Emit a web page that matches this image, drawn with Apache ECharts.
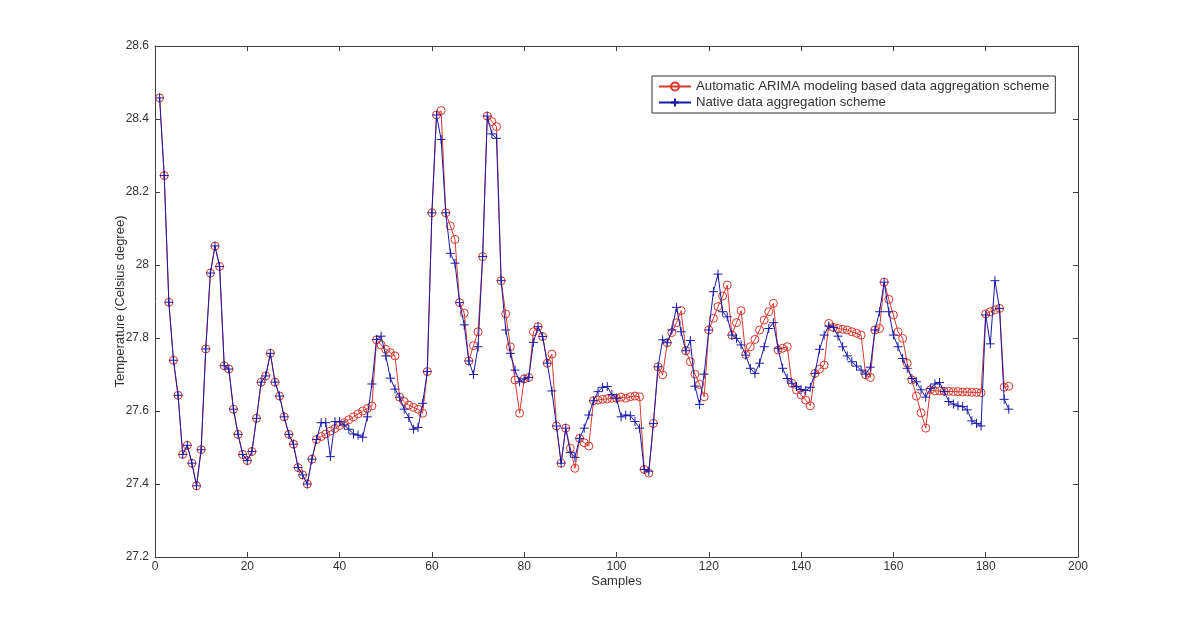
<!DOCTYPE html>
<html>
<head>
<meta charset="utf-8">
<title>Temperature aggregation</title>
<script src="https://cdn.jsdelivr.net/npm/echarts@6/dist/echarts.min.js"></script>
<style>
    html, body { margin: 0; padding: 0; background: #fff; }
    #chart { width: 1200px; height: 625px; }
</style>
</head>
<body>
<div id="chart"></div>
<script>
// values, sample 1..185
var arimaTemp = [
    28.458, 28.245, 27.898, 27.739, 27.643, 27.481, 27.506, 27.457, 27.395, 27.494,
    27.770, 27.978, 28.052, 27.996, 27.724, 27.715, 27.605, 27.536, 27.481, 27.464,
    27.489, 27.580, 27.679, 27.696, 27.758, 27.679, 27.641, 27.584, 27.536, 27.509,
    27.445, 27.425, 27.400, 27.468, 27.522, 27.530, 27.537, 27.545, 27.552, 27.560,
    27.568, 27.576, 27.584, 27.592, 27.600, 27.607, 27.614, 27.795, 27.781, 27.769,
    27.760, 27.751, 27.638, 27.626, 27.616, 27.610, 27.605, 27.594, 27.708, 28.143,
    28.411, 28.423, 28.143, 28.107, 28.070, 27.897, 27.868, 27.737, 27.779, 27.817,
    28.023, 28.408, 28.393, 28.379, 27.957, 27.866, 27.776, 27.685, 27.594, 27.688,
    27.692, 27.817, 27.831, 27.804, 27.731, 27.756, 27.559, 27.457, 27.553, 27.498,
    27.443, 27.525, 27.513, 27.504, 27.628, 27.630, 27.632, 27.633, 27.635, 27.635,
    27.638, 27.635, 27.639, 27.641, 27.639, 27.440, 27.430, 27.566, 27.721, 27.699,
    27.787, 27.815, 27.842, 27.875, 27.765, 27.735, 27.701, 27.673, 27.639, 27.822,
    27.854, 27.886, 27.915, 27.945, 27.808, 27.842, 27.875, 27.755, 27.776, 27.796,
    27.822, 27.849, 27.872, 27.895, 27.767, 27.772, 27.776, 27.676, 27.658, 27.644,
    27.630, 27.614, 27.703, 27.715, 27.726, 27.840, 27.829, 27.826, 27.824, 27.822,
    27.817, 27.813, 27.808, 27.699, 27.692, 27.822, 27.826, 27.953, 27.906, 27.863,
    27.817, 27.799, 27.731, 27.685, 27.641, 27.595, 27.553, 27.658, 27.655, 27.655,
    27.654, 27.654, 27.653, 27.653, 27.652, 27.652, 27.651, 27.651, 27.650, 27.866,
    27.872, 27.877, 27.881, 27.665, 27.668
];

var nativeTemp = [
    28.458, 28.245, 27.898, 27.739, 27.643, 27.481, 27.506, 27.457, 27.395, 27.494,
    27.770, 27.978, 28.052, 27.996, 27.724, 27.715, 27.605, 27.536, 27.481, 27.464,
    27.489, 27.580, 27.679, 27.696, 27.758, 27.679, 27.641, 27.584, 27.536, 27.509,
    27.445, 27.425, 27.400, 27.468, 27.522, 27.568, 27.568, 27.475, 27.571, 27.571,
    27.562, 27.550, 27.537, 27.534, 27.528, 27.584, 27.674, 27.796, 27.805, 27.751,
    27.690, 27.660, 27.638, 27.605, 27.582, 27.550, 27.555, 27.621, 27.708, 28.143,
    28.411, 28.344, 28.143, 28.032, 28.005, 27.897, 27.836, 27.737, 27.700, 27.776,
    28.023, 28.408, 28.359, 28.347, 27.957, 27.822, 27.758, 27.712, 27.680, 27.688,
    27.692, 27.788, 27.831, 27.804, 27.731, 27.655, 27.559, 27.457, 27.553, 27.486,
    27.473, 27.525, 27.553, 27.589, 27.628, 27.653, 27.665, 27.667, 27.645, 27.635,
    27.584, 27.589, 27.587, 27.571, 27.553, 27.440, 27.435, 27.566, 27.721, 27.795,
    27.787, 27.822, 27.884, 27.817, 27.765, 27.793, 27.668, 27.618, 27.701, 27.822,
    27.927, 27.975, 27.872, 27.858, 27.808, 27.799, 27.781, 27.753, 27.717, 27.703,
    27.731, 27.776, 27.826, 27.842, 27.772, 27.717, 27.689, 27.676, 27.667, 27.659,
    27.656, 27.665, 27.703, 27.769, 27.808, 27.833, 27.829, 27.805, 27.776, 27.751,
    27.735, 27.723, 27.712, 27.701, 27.720, 27.822, 27.872, 27.953, 27.872, 27.808,
    27.776, 27.744, 27.717, 27.689, 27.680, 27.658, 27.638, 27.662, 27.674, 27.678,
    27.653, 27.626, 27.619, 27.614, 27.612, 27.603, 27.573, 27.566, 27.559, 27.863,
    27.784, 27.957, 27.881, 27.632, 27.605
];

var seriesNames = ['Automatic ARIMA modeling based data aggregation scheme', 'Native data aggregation scheme'];
var xTicks = { min: 0, max: 200, step: 20 };
var yTicks = { min: 27.2, max: 28.6, step: 0.2 };

function toPoints(values) {
    return values.map(function (v, i) {
        return [i + 1, v];
    });
}

var textColor = '#333';
var axisColor = '#404040';
var font = 'Arial, "Liberation Sans", sans-serif';

function boxAxis(pos, range, showLabel) {
    return {
        type: 'value',
        position: pos,
        min: range.min,
        max: range.max,
        interval: range.step,
        axisLine: { show: true, onZero: false, lineStyle: { color: axisColor, width: 1 } },
        axisTick: { show: true, inside: true, length: 5, lineStyle: { color: axisColor } },
        axisLabel: { show: showLabel, color: textColor, fontFamily: font, fontSize: 12, margin: 6 },
        splitLine: { show: false }
    };
}

var xBottom = boxAxis('bottom', xTicks, true);
xBottom.axisLabel.margin = 4;
xBottom.name = 'Samples';
xBottom.nameLocation = 'middle';
xBottom.nameGap = 18;
xBottom.nameMoveOverlap = false;
xBottom.nameTextStyle = { color: textColor, fontFamily: font, fontSize: 13 };

var yLeft = boxAxis('left', yTicks, true);
yLeft.name = 'Temperature (Celsius degree)';
yLeft.nameLocation = 'middle';
yLeft.nameGap = 28;
yLeft.nameMoveOverlap = false;
yLeft.nameTextStyle = { color: textColor, fontFamily: font, fontSize: 13 };

var plusPath = 'path://M4,0L4,8M0,4L8,4';

var option = {
    animation: false,
    backgroundColor: '#fff',
    grid: { left: 155, right: 122, top: 46, bottom: 68 },
    xAxis: [xBottom, boxAxis('top', xTicks, false)],
    yAxis: [yLeft, boxAxis('right', yTicks, false)],
    legend: {
        orient: 'vertical',
        left: 652,
        top: 76,
        padding: [4, 6, 4, 6],
        itemGap: 3,
        itemWidth: 32,
        itemHeight: 10,
        backgroundColor: '#fff',
        borderColor: '#333',
        borderWidth: 1,
        textStyle: { color: textColor, fontFamily: font, fontSize: 13.2 },
        data: seriesNames
    },
    series: [
        {
            name: seriesNames[0],
            type: 'line',
            data: toPoints(arimaTemp),
            symbol: 'circle',
            symbolSize: 8,
            itemStyle: { color: 'rgba(0,0,0,0)', borderColor: '#d8382c', borderWidth: 1 },
            lineStyle: { color: '#d8382c', width: 1 },
            z: 2
        },
        {
            name: seriesNames[1],
            type: 'line',
            data: toPoints(nativeTemp),
            symbol: plusPath,
            symbolSize: 9,
            itemStyle: { color: 'rgba(0,0,0,0)', borderColor: '#1a1aa8', borderWidth: 1 },
            lineStyle: { color: '#1a1aa8', width: 1 },
            z: 3
        }
    ]
};

var myChart = echarts.init(document.getElementById('chart'));
myChart.setOption(option);
</script>
</body>
</html>
